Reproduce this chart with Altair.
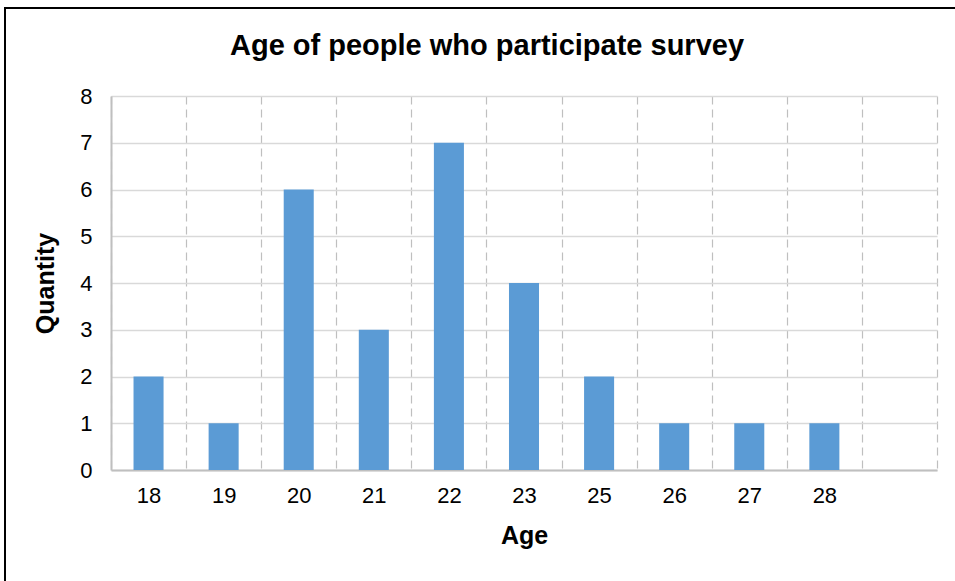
import altair as alt
import pandas as pd

ages = ["18", "19", "20", "21", "22", "23", "25", "26", "27", "28"]
quantities = [2, 1, 6, 3, 7, 4, 2, 1, 1, 1]
slots = ages + [" "]  # empty trailing slot, as in the reference

df = pd.DataFrame({"Age": ages, "Quantity": quantities})
FONT = "Liberation Sans"

bars = alt.Chart(df).mark_bar(
    color="#5b9bd5", width=alt.RelativeBandSize(0.4)
).encode(
    x=alt.X(
        "Age:N",
        scale=alt.Scale(domain=slots, paddingInner=0, paddingOuter=0),
        sort=slots,
        axis=alt.Axis(
            title="Age",
            labelAngle=0,
            ticks=False,
            tickBand="extent",
            grid=True,
            gridDash=[8, 5],
            gridColor="#bfbfbf",
            gridWidth=1.2,
            domainColor="#bfbfbf",
            domainWidth=2,
            labelFontSize=22,
            labelPadding=15,
            titleFontSize=25,
            titleFontWeight="bold",
            titlePadding=17,
        ),
    ),
    y=alt.Y(
        "Quantity:Q",
        scale=alt.Scale(domain=[0, 8], nice=False),
        axis=alt.Axis(
            title="Quantity",
            values=list(range(0, 9)),
            labelOverlap=False,
            ticks=False,
            grid=True,
            gridColor="#d9d9d9",
            gridWidth=1.5,
            domainColor="#bfbfbf",
            domainWidth=2,
            labelFontSize=22,
            labelPadding=19,
            titleFontSize=25,
            titleFontWeight="bold",
            titlePadding=21,
        ),
    ),
)

border = alt.Chart(pd.DataFrame({"k": [0]})).mark_rect(
    fill=None, stroke="black", strokeWidth=2
).encode(
    x=alt.value(-106), x2=alt.value(1000), y=alt.value(-88), y2=alt.value(700)
)

chart = alt.layer(bars, border).properties(
    width=826,
    height=374,
    padding={"left": 111, "top": 96, "right": 18, "bottom": 111},
    autosize=alt.AutoSizeParams(type="none"),
    title=alt.TitleParams(
        "Age of people who participate survey",
        fontSize=29,
        fontWeight="bold",
        font=FONT,
        color="black",
        anchor="middle",
        frame="group",
        baseline="alphabetic",
        dx=-37,
        dy=77,
        offset=0,
    ),
).configure(
    font=FONT,
).configure_axis(
    labelFont=FONT,
    titleFont=FONT,
    labelColor="black",
    titleColor="black",
).configure_view(stroke=None)

chart.save("out.html", embed_options={"renderer": "svg", "actions": False})
